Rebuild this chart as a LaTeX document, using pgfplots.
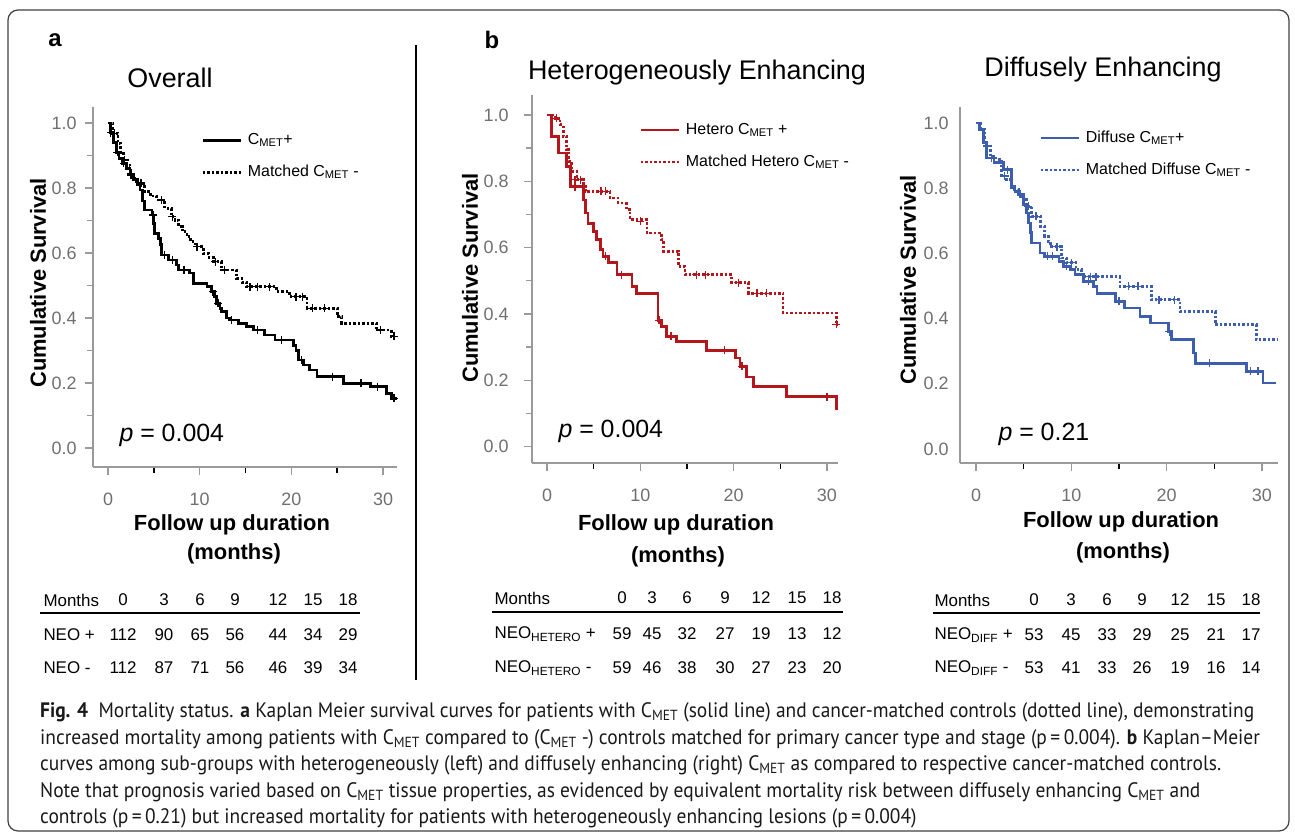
\documentclass[border=0pt]{standalone}
\usepackage{fontspec}
\setmainfont{Liberation Sans}
\newfontfamily\capfont[FakeStretch=0.93]{PT Sans}
\usepackage{pgfplots}
\pgfplotsset{compat=1.18}
\definecolor{hred}{HTML}{B3171C}
\definecolor{dblue}{HTML}{3D5EAD}
\definecolor{tickgray}{HTML}{6F6F6F}
\definecolor{axgray}{HTML}{9A9A9A}
\newcommand{\fs}[1]{\fontsize{#1}{#1}\selectfont}

\pgfplotsset{
  km/.style={
    scale only axis,
    axis x line*=bottom, axis y line*=left,
    axis line style={-, draw=axgray, line width=1.3bp},
    tick align=outside,
    xtick={0,10,20,30}, minor xtick={5,15,25},
    ytick={0,0.2,0.4,0.6,0.8,1}, minor ytick={0.1,0.3,0.5,0.7,0.9},
    major tick length=8bp, minor tick length=6bp,
    major tick style={draw=axgray, line width=1.3bp},
    minor x tick style={draw=black, line width=1.5bp},
    minor y tick style={draw=axgray, line width=1.3bp},
    ticklabel style={font=\fs{18}, text=tickgray},
    x tick label style={yshift=-14bp},
    /pgf/number format/assume math mode=true,
    y tick label style={/pgf/number format/.cd, fixed, fixed zerofill, precision=1, /tikz/.cd},
    clip=false,
    legend cell align=left,
    legend image code/.code={\draw[##1] (0bp,0bp) -- (38bp,0bp);},
    legend style={draw=none, fill=none, anchor=north west, inner sep=0pt,
      font=\fs{16}, row sep=14bp, column sep=5bp,
      nodes={inner sep=1bp, text height=12bp, text depth=4bp}},
  },
  solidc/.style={const plot, line width=2.7bp},
  dotc/.style={const plot, line width=2.7bp, dash pattern=on 2.5bp off 2bp},
  cens/.style={only marks, mark=+, mark size=4bp, mark options={solid, line width=1.3bp}, forget plot},
}

\begin{document}
\begin{tikzpicture}[x=1bp, y=-1bp]
\useasboundingbox (0,0) rectangle (1295,835);
\draw[rounded corners=10bp, draw=black!75, line width=1.2bp] (8,10) rectangle (1289,831);
\draw[line width=2.5bp] (416,45) -- (416,680);
\node[font=\fs{24}\bfseries] at (55,40) {a};
\node[font=\fs{24}\bfseries] at (492,40) {b};

% panel titles
\node[font=\fs{27}] at (170,78) {Overall};
\node[font=\fs{27}] at (697,73) {Heterogeneously Enhancing};
\node[font=\fs{27}] at (1103,70) {Diffusely Enhancing};

% axis titles
\node[rotate=90, font=\fs{22}\bfseries] at (38,283) {Cumulative Survival};
\node[rotate=90, font=\fs{22}\bfseries] at (470,278) {Cumulative Survival};
\node[rotate=90, font=\fs{22}\bfseries] at (908,280) {Cumulative Survival};
\node[font=\fs{22}\bfseries] at (232,525) {Follow up duration};
\node[font=\fs{22}\bfseries] at (234,554) {(months)};
\node[font=\fs{22}\bfseries] at (676,525) {Follow up duration};
\node[font=\fs{22}\bfseries] at (678,557) {(months)};
\node[font=\fs{22}\bfseries] at (1121,522) {Follow up duration};
\node[font=\fs{22}\bfseries] at (1123,553) {(months)};

% p values
\node[anchor=base west, font=\fs{25}] at (116,441) {\textit{p} = 0.004};
\node[anchor=base west, font=\fs{25}] at (555,437) {\textit{p} = 0.004};
\node[anchor=base west, font=\fs{25}] at (995,440) {\textit{p} = 0.21};

\coordinate (pa) at (93,467);
\coordinate (pb) at (532,463);
\coordinate (pc) at (960,463);

% ---------- a: overall
\begin{axis}[km, at={(pa)}, anchor=south west, width=304bp, height=360bp,
  xmin=-1.636, xmax=31.52, ymin=-0.0585, ymax=1.049,
  y tick label style={xshift=-5bp},
  legend style={at={(axis cs:10.14,0.975)}}]
\addplot[solidc, black] table {
0 1.0
0.3 0.97
0.6 0.94
0.9 0.91
1.2 0.89
1.6 0.876
2.0 0.86
2.4 0.84
2.8 0.825
3.2 0.81
3.5 0.794
3.8 0.76
4.0 0.732
4.8 0.717
5.0 0.69
5.1 0.66
5.5 0.645
5.7 0.625
5.85 0.594
6.6 0.578
7.5 0.563
7.7 0.548
8.9 0.538
9.3 0.507
10.8 0.496
11.3 0.481
11.6 0.465
11.85 0.445
12.2 0.43
12.4 0.42
12.9 0.40
13.3 0.394
14.2 0.384
15.1 0.373
15.9 0.363
17.1 0.348
18.2 0.332
20.2 0.315
20.5 0.30
20.8 0.271
21.3 0.255
22.0 0.24
22.8 0.219
25.7 0.199
28.6 0.189
30.4 0.168
30.9 0.153
31.5 0.153
};
\addlegendentry{C\textsubscript{MET}+}
\addplot[dotc, black] table {
0 1.0
0.5 0.968
1.1 0.937
1.4 0.91
1.7 0.886
2.0 0.87
2.4 0.845
2.7 0.83
3.1 0.814
4.0 0.789
4.6 0.775
5.3 0.763
6.2 0.737
6.9 0.712
7.3 0.70
7.7 0.681
8.1 0.665
8.6 0.65
9.0 0.635
9.5 0.619
10.4 0.599
11.0 0.585
11.5 0.573
12.4 0.548
14.0 0.522
14.6 0.51
15.1 0.496
18.4 0.481
19.8 0.466
21.7 0.43
25.0 0.404
25.5 0.384
29.3 0.363
30.9 0.343
31.3 0.343
};
\addlegendentry{Matched C\textsubscript{MET} -}
\addplot[cens, black] table {
0.3 0.97
1.0 0.91
1.7 0.876
2.5 0.84
4.9 0.717
6.2 0.594
7.0 0.578
8.3 0.548
11.4 0.481
12.0 0.445
13.5 0.394
16.3 0.363
18.9 0.332
21.1 0.271
24.5 0.219
27.6 0.199
29.4 0.189
31.2 0.153
};
\addplot[cens, black] table {
0.7 0.968
1.8 0.886
2.5 0.845
3.6 0.814
5.8 0.763
7.0 0.712
9.7 0.619
11.7 0.573
12.7 0.548
15.5 0.496
16.3 0.496
17.6 0.496
20.5 0.466
21.2 0.466
22.3 0.43
23.6 0.43
29.7 0.363
31.2 0.343
};
\end{axis}

% ---------- b: heterogeneously enhancing
\begin{axis}[km, at={(pb)}, anchor=south west, width=306bp, height=368bp,
  xmin=-1.61, xmax=31.19, ymin=-0.0498, ymax=1.06,
  y tick label style={xshift=-12bp},
  legend style={at={(axis cs:9.86,0.982)}}]
\addplot[solidc, hred] table {
0 1.0
0.5 0.935
1.2 0.885
2.1 0.845
2.5 0.784
3.9 0.743
4.1 0.704
4.4 0.673
5.0 0.648
5.3 0.624
5.7 0.594
6.0 0.574
6.6 0.554
7.5 0.518
9.1 0.483
9.6 0.462
11.9 0.38
12.3 0.362
12.8 0.332
13.9 0.317
17.1 0.29
20.2 0.267
20.7 0.242
21.4 0.21
22.1 0.18
25.7 0.15
31.0 0.115
31.2 0.115
};
\addlegendentry{Hetero C\textsubscript{MET} +}
\addplot[dotc, hred] table {
0 1.0
0.86 0.99
1.4 0.97
1.75 0.935
2.1 0.895
2.3 0.86
2.65 0.83
3.2 0.805
3.9 0.784
4.1 0.769
6.75 0.749
7.6 0.734
8.5 0.714
8.9 0.684
10.7 0.644
12.3 0.624
12.5 0.589
14.1 0.543
14.8 0.518
19.8 0.494
21.6 0.462
25.3 0.403
31.0 0.368
31.2 0.368
};
\addlegendentry{Matched Hetero C\textsubscript{MET} -}
\addplot[cens, hred] table {
3.0 0.784
6.3 0.574
8.0 0.518
12.0 0.38
13.3 0.332
19.0 0.29
20.9 0.242
30.0 0.15
};
\addplot[cens, hred] table {
1.0 0.99
3.0 0.805
3.6 0.805
5.8 0.769
6.3 0.769
10.0 0.679
16.0 0.518
17.0 0.518
20.5 0.494
22.5 0.462
23.5 0.462
31.0 0.368
};
\end{axis}

% ---------- c: diffusely enhancing
\begin{axis}[km, at={(pc)}, anchor=south west, width=318bp, height=356bp,
  xmin=-1.68, xmax=31.69, ymin=-0.043, ymax=1.049,
  major y tick style={draw=none}, minor y tick style={draw=none},
  legend style={at={(axis cs:6.61,0.982)}}]
\addplot[solidc, dblue] table {
0 1.0
0.4 0.98
0.77 0.94
1.1 0.893
1.9 0.878
2.9 0.857
3.7 0.806
4.1 0.79
4.6 0.775
5.0 0.75
5.3 0.724
5.5 0.693
5.7 0.663
5.85 0.632
6.7 0.601
7.2 0.591
8.7 0.575
9.2 0.56
9.9 0.55
10.4 0.535
11.3 0.514
12.3 0.499
12.7 0.478
14.6 0.453
15.6 0.432
17.2 0.406
18.3 0.386
20.2 0.36
20.5 0.335
22.8 0.294
23.0 0.263
28.4 0.238
30.1 0.202
31.5 0.202
};
\addlegendentry{Diffuse C\textsubscript{MET}+}
\addplot[dotc, dblue] table {
0 1.0
0.5 0.98
0.95 0.929
1.5 0.898
2.1 0.888
2.7 0.837
3.2 0.826
3.75 0.796
4.45 0.78
5.0 0.77
5.3 0.744
5.85 0.714
6.8 0.683
7.2 0.652
7.6 0.637
7.8 0.621
9.0 0.586
9.5 0.571
10.5 0.55
11.1 0.535
11.4 0.529
15.1 0.499
18.4 0.458
21.4 0.422
25.1 0.381
29.4 0.335
31.7 0.335
};
\addlegendentry{Matched Diffuse C\textsubscript{MET} -}
\addplot[cens, dblue] table {
1.6 0.893
3.3 0.857
7.5 0.591
8.0 0.591
9.5 0.56
11.8 0.514
15.0 0.453
20.3 0.36
24.5 0.263
28.8 0.238
29.6 0.238
};
\addplot[cens, dblue] table {
1.2 0.929
3.0 0.837
5.5 0.744
6.3 0.714
8.5 0.621
10.0 0.571
12.0 0.529
12.6 0.529
16.0 0.499
17.0 0.499
19.2 0.458
20.8 0.458
};
\end{axis}

% ---------- number at risk tables
\begin{scope}[every node/.style={font=\fs{17}}]
\node[anchor=west] at (40,600) {Months};
\foreach \x/\t in {123/0,164/3,200/6,235/9,278/12,313/15,348/18} \node at (\x,600) {\t};
\draw[line width=2bp] (40,613) -- (360,613);
\node[anchor=west] at (40,635) {NEO +};
\foreach \x/\t in {123/112,164/90,200/65,235/56,278/44,313/34,348/29} \node at (\x,635) {\t};
\node[anchor=west] at (40,668) {NEO -};
\foreach \x/\t in {123/112,164/87,200/71,235/56,278/46,313/39,348/34} \node at (\x,668) {\t};

\node[anchor=west] at (491,598) {Months};
\foreach \x/\t in {622/0,652/3,687/6,725/9,761/12,797/15,832/18} \node at (\x,598) {\t};
\draw[line width=2bp] (492,612) -- (843,612);
\node[anchor=west] at (491,634) {NEO\textsubscript{HETERO} +};
\foreach \x/\t in {622/59,652/45,687/32,725/27,761/19,797/13,832/12} \node at (\x,634) {\t};
\node[anchor=west] at (491,668) {NEO\textsubscript{HETERO} -};
\foreach \x/\t in {622/59,652/46,687/38,725/30,761/27,797/23,832/20} \node at (\x,668) {\t};

\node[anchor=west] at (931,600) {Months};
\foreach \x/\t in {1034/0,1071/3,1107/6,1142/9,1180/12,1216/15,1251/18} \node at (\x,600) {\t};
\draw[line width=2bp] (933,613) -- (1260,613);
\node[anchor=west] at (931,635) {NEO\textsubscript{DIFF} +};
\foreach \x/\t in {1034/53,1071/45,1107/33,1142/29,1180/25,1216/21,1251/17} \node at (\x,635) {\t};
\node[anchor=west] at (931,668) {NEO\textsubscript{DIFF} -};
\foreach \x/\t in {1034/53,1071/41,1107/33,1142/26,1180/19,1216/16,1251/14} \node at (\x,668) {\t};
\end{scope}

% ---------- caption
\begin{scope}[every node/.style={anchor=base west, inner sep=0pt, font=\capfont\fs{21}, text=black!90}]
\node at (40,717) {\textbf{Fig. 4}\enspace Mortality status. \textbf{a} Kaplan Meier survival curves for patients with C\textsubscript{MET} (solid line) and cancer-matched controls (dotted line), demonstrating};
\node at (40,744) {increased mortality among patients with C\textsubscript{MET} compared to (C\textsubscript{MET} -) controls matched for primary cancer type and stage (p\,=\,0.004). \textbf{b} Kaplan\textendash Meier};
\node at (40,770) {curves among sub-groups with heterogeneously (left) and diffusely enhancing (right) C\textsubscript{MET} as compared to respective cancer-matched controls.};
\node at (40,797) {Note that prognosis varied based on C\textsubscript{MET} tissue properties, as evidenced by equivalent mortality risk between diffusely enhancing C\textsubscript{MET} and};
\node at (40,823) {controls (p\,=\,0.21) but increased mortality for patients with heterogeneously enhancing lesions (p\,=\,0.004)};
\end{scope}
\end{tikzpicture}
\end{document}
